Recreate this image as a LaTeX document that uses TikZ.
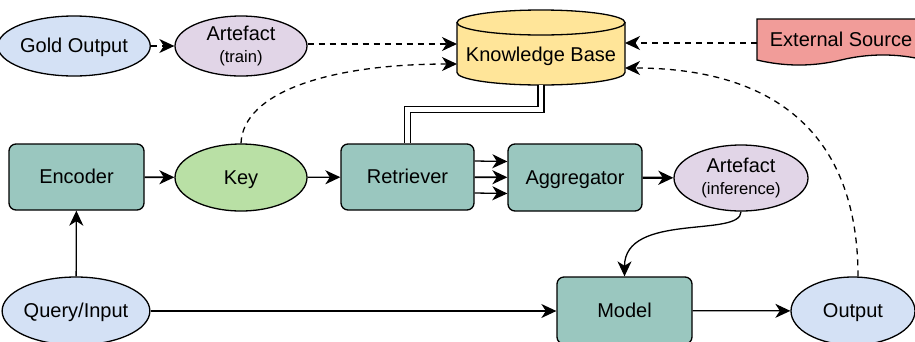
\documentclass[tikz,border=0pt]{standalone}
\usepackage{fontspec}
\setmainfont{Liberation Sans}
\usetikzlibrary{shapes.geometric,arrows.meta}
\definecolor{blueF}{HTML}{D4E1F5}
\definecolor{purpleF}{HTML}{E1D5E7}
\definecolor{yellowF}{HTML}{FFE599}
\definecolor{redF}{HTML}{F19C99}
\definecolor{tealF}{HTML}{9AC7BF}
\definecolor{greenF}{HTML}{B9E0A5}
\newcommand{\smallfnt}{\fontsize{16.6}{20}\selectfont}
\newcommand{\mainfnt}{\fontsize{20}{25}\selectfont}
\tikzset{
  base/.style={draw=black, line width=1.3pt, inner sep=0pt, font=\mainfnt, align=center, text height=17pt, text depth=3.2pt},
  two/.style={text height={}, text depth={}},
  ell/.style={base, ellipse},
  box/.style={base, rectangle, rounded corners=7pt},
  arr/.style={line width=1.3pt, -{Stealth[length=15pt,width=14pt,inset=4.5pt]}},
  dsh/.style={arr, dash pattern=on 6pt off 5pt},
  dbl/.style={line width=1.3pt, double=white, double distance=4.5pt},
}
\begin{document}
\begin{tikzpicture}[x=1pt,y=-1pt]
\useasboundingbox (0,0) rectangle (915,341);
\clip (0,0) rectangle (915,341);

% nodes
\node[ell, fill=blueF, minimum width=132pt, minimum height=60pt] (gold) at (74,46) {Gold Output};
\node[ell, two, fill=purpleF, minimum width=132pt, minimum height=60pt] (art1) at (241,46) {Artefact\\[-3pt]{\smallfnt (train)}};
\node[ell, fill=greenF, minimum width=132pt, minimum height=67pt] (key) at (241,177.5) {Key};
\node[ell, two, fill=purpleF, minimum width=134pt, minimum height=66pt] (art2) at (741,178) {Artefact\\[-3pt]{\smallfnt (inference)}};
\node[ell, fill=blueF, minimum width=134pt, minimum height=68pt] (query) at (76,311) {Query/Input};
\node[ell, fill=blueF, minimum width=124pt, minimum height=68pt] (out) at (853,311) {Output};

\node[box, fill=tealF, minimum width=135pt, minimum height=66pt] (enc) at (76.5,177) {Encoder};
\node[box, fill=tealF, minimum width=133pt, minimum height=66pt] (ret) at (407.5,177) {Retriever};
\node[box, fill=tealF, minimum width=134pt, minimum height=67pt] (agg) at (575,177.5) {Aggregator};
\node[box, fill=tealF, minimum width=135pt, minimum height=67pt] (model) at (624.5,310.5) {Model};

% knowledge base cylinder
\fill[yellowF] (457,22.5) -- (457,72.5) arc[start angle=180, end angle=0, x radius=84, y radius=12.5] -- (625,22.5) arc[start angle=360, end angle=180, x radius=84, y radius=12.5] -- cycle;
\draw[line width=1.3pt] (457,22.5) -- (457,72.5) arc[start angle=180, end angle=0, x radius=84, y radius=12.5] -- (625,22.5);
\draw[line width=1.3pt] (541,22.5) ellipse[x radius=84, y radius=12.5];
\node[inner sep=0pt, minimum width=168pt, minimum height=75pt] (kb) at (541,47.5) {};
\node[font=\mainfnt, inner sep=0pt] (kbtxt) at (541,56) {Knowledge Base};

% external source
\draw[line width=1.3pt, fill=redF] (757,19) -- (925,19) -- (925,60)
  .. controls (897,53.3) and (869,53.3) .. (841,60)
  .. controls (813,66.7) and (785,66.7) .. (757,60) -- cycle;
\node[font=\mainfnt, inner sep=0pt, minimum width=168pt, minimum height=41pt] (ext) at (841,39.5) {External Source};

% coordinates on KB
\coordinate (kbL1) at (457,44);
\coordinate (kbL2) at (457,64);
\coordinate (kbR1) at (625,43);
\coordinate (kbR2) at (625,68);
\coordinate (kbB) at (541,85);

% connectors
\draw[dsh] (gold) -- (art1);
\draw[dsh] (art1.east |- kbL1) -- (kbL1);
\draw[dsh] (ext.west |- kbR1) -- (kbR1);
\draw[dsh] (key.north) .. controls (243,92) and (330,64) .. (kbL2);
\draw[dsh] ([xshift=5pt]out.north) .. controls (858,130) and (770,68) .. (kbR2);

\draw[dbl] (kbB) -- ++(0,24.5) -| (ret.north);

\draw[arr, line width=1.8pt] (enc) -- (key);
\draw[arr] (key) -- (ret);
\draw[arr] ([yshift=16pt]ret.east) -- ([yshift=16pt]agg.west);
\draw[arr, line width=1.8pt] (ret) -- (agg);
\draw[arr] ([yshift=-16pt]ret.east) -- ([yshift=-16pt]agg.west);
\draw[arr, line width=2.4pt] (agg) -- (art2);
\draw[arr] (art2.south) .. controls (741,238) and (624.5,212) .. (model.north);
\draw[arr] (query) -- (enc);
\draw[arr] (query.east) -- (query.east -| model.west);
\draw[arr] (model) -- (out);
\end{tikzpicture}
\end{document}
